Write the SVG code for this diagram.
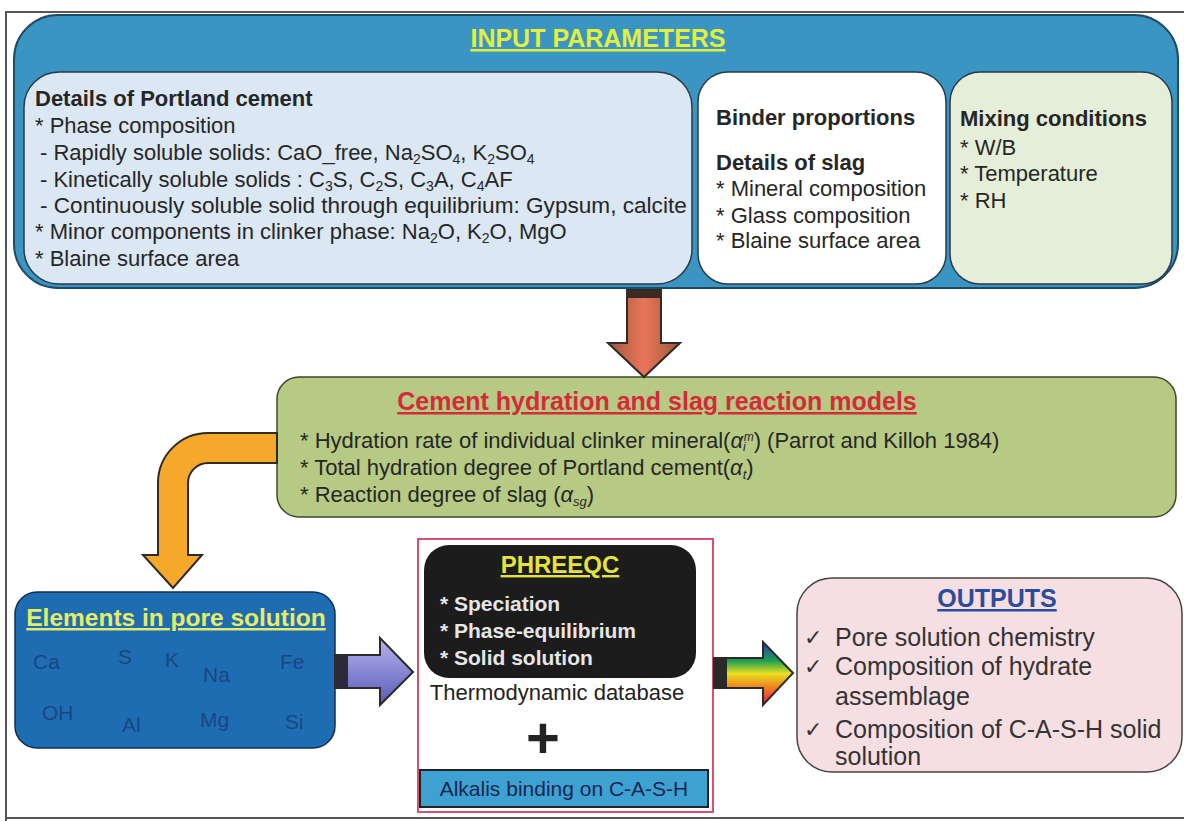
<svg xmlns="http://www.w3.org/2000/svg" width="1184" height="821" viewBox="0 0 1184 821">
<style>
text{font-family:"Liberation Sans",Arial,sans-serif;}
.b{font-weight:bold}
.dk{fill:#262626}
.t22{font-size:22px}
.u{text-decoration:underline}
.el{font-size:21px;fill:#1a4782}
.ph{font-size:21px;font-weight:bold;fill:#e6e6e6}
.out{font-size:25px;fill:#333}
.chk{font-family:"DejaVu Sans",sans-serif;font-size:22px;fill:#333}
.arrow{stroke:#2e2a26;stroke-width:2;stroke-linejoin:miter}
</style>
<defs>
<linearGradient id="gBrown" x1="0" y1="0" x2="1" y2="0">
<stop offset="0" stop-color="#9c5a3c"/><stop offset="0.5" stop-color="#ea7458"/><stop offset="1" stop-color="#9c5a3c"/>
</linearGradient>
<linearGradient id="gPurple" x1="0" y1="0" x2="0" y2="1">
<stop offset="0" stop-color="#b4b4ee"/><stop offset="1" stop-color="#5a5ab8"/>
</linearGradient>
<linearGradient id="gRain" x1="0" y1="0" x2="0" y2="1">
<stop offset="0" stop-color="#2a3cc0"/><stop offset="0.3" stop-color="#1ea050"/><stop offset="0.5" stop-color="#e8e020"/><stop offset="0.72" stop-color="#f08020"/><stop offset="1" stop-color="#e01e50"/>
</linearGradient>
</defs>
<rect x="0" y="0" width="1184" height="821" fill="#ffffff"/>
<g id="frame" stroke="#555" stroke-width="2" fill="none">
<line x1="5" y1="12" x2="1184" y2="12"/>
<line x1="6" y1="12" x2="6" y2="821"/>
<line x1="5" y1="818" x2="1184" y2="818"/>
</g>

<g id="input-parameters">
<rect x="14" y="15" width="1164" height="273" rx="44" fill="#3a95c2" stroke="#1f4a66" stroke-width="2"/>
<text x="598" y="47" class="b u" font-size="25" fill="#e4ee3c" text-anchor="middle">INPUT PARAMETERS</text>
</g>

<g id="portland">
<rect x="24" y="72" width="668" height="212" rx="35" fill="#dbe7f3" stroke="#2a3a4a" stroke-width="1.5"/>
<text x="35" y="106" class="b dk t22">Details of Portland cement</text>
<text x="35" y="133" class="dk t22">* Phase composition</text>
<text x="40" y="160" class="dk t22">- Rapidly soluble solids: CaO_free, Na<tspan font-size="14" dy="4">2</tspan><tspan dy="-4">SO</tspan><tspan font-size="14" dy="4">4</tspan><tspan dy="-4">, K</tspan><tspan font-size="14" dy="4">2</tspan><tspan dy="-4">SO</tspan><tspan font-size="14" dy="4">4</tspan></text>
<text x="40" y="187" class="dk t22">- Kinetically soluble solids : C<tspan font-size="14" dy="4">3</tspan><tspan dy="-4">S, C</tspan><tspan font-size="14" dy="4">2</tspan><tspan dy="-4">S, C</tspan><tspan font-size="14" dy="4">3</tspan><tspan dy="-4">A, C</tspan><tspan font-size="14" dy="4">4</tspan><tspan dy="-4">AF</tspan></text>
<text x="40" y="213" class="dk" font-size="22.6">- Continuously soluble solid through equilibrium: Gypsum, calcite</text>
<text x="35" y="239" class="dk t22">* Minor components in clinker phase: Na<tspan font-size="14" dy="4">2</tspan><tspan dy="-4">O, K</tspan><tspan font-size="14" dy="4">2</tspan><tspan dy="-4">O, MgO</tspan></text>
<text x="35" y="266" class="dk t22">* Blaine surface area</text>
</g>

<g id="binder">
<rect x="698" y="72" width="248" height="212" rx="30" fill="#ffffff" stroke="#2a3a4a" stroke-width="1.5"/>
<text x="716" y="125" class="b dk t22">Binder proportions</text>
<text x="716" y="170" class="b dk t22">Details of slag</text>
<text x="716" y="196" class="dk t22">* Mineral composition</text>
<text x="716" y="223" class="dk t22">* Glass composition</text>
<text x="716" y="248" class="dk t22">* Blaine surface area</text>
</g>

<g id="mixing">
<rect x="950" y="72" width="222" height="212" rx="30" fill="#e5eed9" stroke="#2a3a4a" stroke-width="1.5"/>
<text x="960" y="126" class="b dk t22">Mixing conditions</text>
<text x="960" y="155" class="dk t22">* W/B</text>
<text x="960" y="181" class="dk t22">* Temperature</text>
<text x="960" y="208" class="dk t22">* RH</text>
</g>

<g id="hydration-models">
<rect x="277" y="377" width="899" height="140" rx="22" fill="#b6ca84" stroke="#3a4a2a" stroke-width="1.5"/>
<text x="657" y="410" class="b u" font-size="25" fill="#d42a3a" text-anchor="middle">Cement hydration and slag reaction models</text>
<text x="300" y="448" class="dk t22">* Hydration rate of individual clinker mineral(<tspan font-style="italic">α</tspan><tspan font-style="italic" font-size="12" dy="3">i</tspan><tspan font-style="italic" font-size="12" dx="-2" dy="-10">m</tspan><tspan dy="7">) (Parrot and Killoh 1984)</tspan></text>
<text x="300" y="475" class="dk t22">* Total hydration degree of Portland cement(<tspan font-style="italic">α</tspan><tspan font-style="italic" font-size="13" dy="4">t</tspan><tspan dy="-4">)</tspan></text>
<text x="300" y="502" class="dk t22">* Reaction degree of slag (<tspan font-style="italic">α</tspan><tspan font-style="italic" font-size="13" dy="4">sg</tspan><tspan dy="-4">)</tspan></text>
</g>

<g id="pore-solution">
<rect x="15" y="592" width="320" height="156" rx="22" fill="#1e6db3" stroke="#0d3050" stroke-width="1.5"/>
<text x="176" y="626" class="b u" font-size="24.5" fill="#e6ec66" text-anchor="middle">Elements in pore solution</text>
<text x="33" y="669" class="el">Ca</text>
<text x="118" y="664" class="el">S</text>
<text x="165" y="667" class="el">K</text>
<text x="203" y="682" class="el">Na</text>
<text x="280" y="669" class="el">Fe</text>
<text x="42" y="720" class="el">OH</text>
<text x="122" y="732" class="el">Al</text>
<text x="200" y="727" class="el">Mg</text>
<text x="285" y="729" class="el">Si</text>
</g>

<g id="phreeqc">
<rect x="418" y="539" width="295" height="273" fill="#ffffff" stroke="#d85070" stroke-width="2"/>
<rect x="424" y="545" width="272" height="133" rx="25" fill="#1c1c1c"/>
<text x="560" y="573" class="b u" font-size="24" fill="#e4e43a" text-anchor="middle">PHREEQC</text>
<text x="440" y="611" class="ph">* Speciation</text>
<text x="440" y="638" class="ph">* Phase-equilibrium</text>
<text x="440" y="665" class="ph">* Solid solution</text>
<text x="557" y="700" font-size="22" fill="#222" text-anchor="middle">Thermodynamic database</text>
<text x="543" y="758" font-size="58" font-weight="bold" fill="#222" text-anchor="middle">+</text>
<rect x="420" y="770" width="288" height="37" fill="#3da2d2" stroke="#222" stroke-width="2"/>
<text x="564" y="796" font-size="21" fill="#1a2650" text-anchor="middle">Alkalis binding on C-A-S-H</text>
</g>

<g id="outputs">
<rect x="797" y="578" width="385" height="194" rx="35" fill="#f6dfe2" stroke="#444" stroke-width="1.5"/>
<text x="997" y="607" class="b u" font-size="25" fill="#2c4c9c" text-anchor="middle">OUTPUTS</text>
<text x="804" y="645" class="chk">✓</text>
<text x="835" y="646" class="out">Pore solution chemistry</text>
<text x="804" y="674" class="chk">✓</text>
<text x="835" y="675" class="out">Composition of hydrate</text>
<text x="835" y="705" class="out">assemblage</text>
<text x="804" y="737" class="chk">✓</text>
<text x="835" y="738" class="out">Composition of C-A-S-H solid</text>
<text x="835" y="765" class="out">solution</text>
</g>

<g id="connectors">
<path class="arrow" d="M627,290 H661 V343 H680 L644,377 L608,343 H627 Z" fill="url(#gBrown)"/>
<rect x="627" y="290" width="34" height="8" fill="#3a2a20"/>
<path class="arrow" d="M277,433 H208 A50,50 0 0 0 158,483 V555 H143 L173,588 L202,555 H188 V483 A20,20 0 0 1 208,463 H277 Z" fill="#f5a82a"/>
<path class="arrow" d="M335,655 H380 V638 L413,672 L380,705 V688 H335 Z" fill="url(#gPurple)"/>
<rect x="335" y="655" width="13" height="33" fill="#2a2a3a"/>
<path class="arrow" d="M714,658 H763 V642 L793,673 L763,705 V688 H714 Z" fill="url(#gRain)"/>
<rect x="714" y="658" width="13" height="30" fill="#2a2a2a"/>
</g>
</svg>
